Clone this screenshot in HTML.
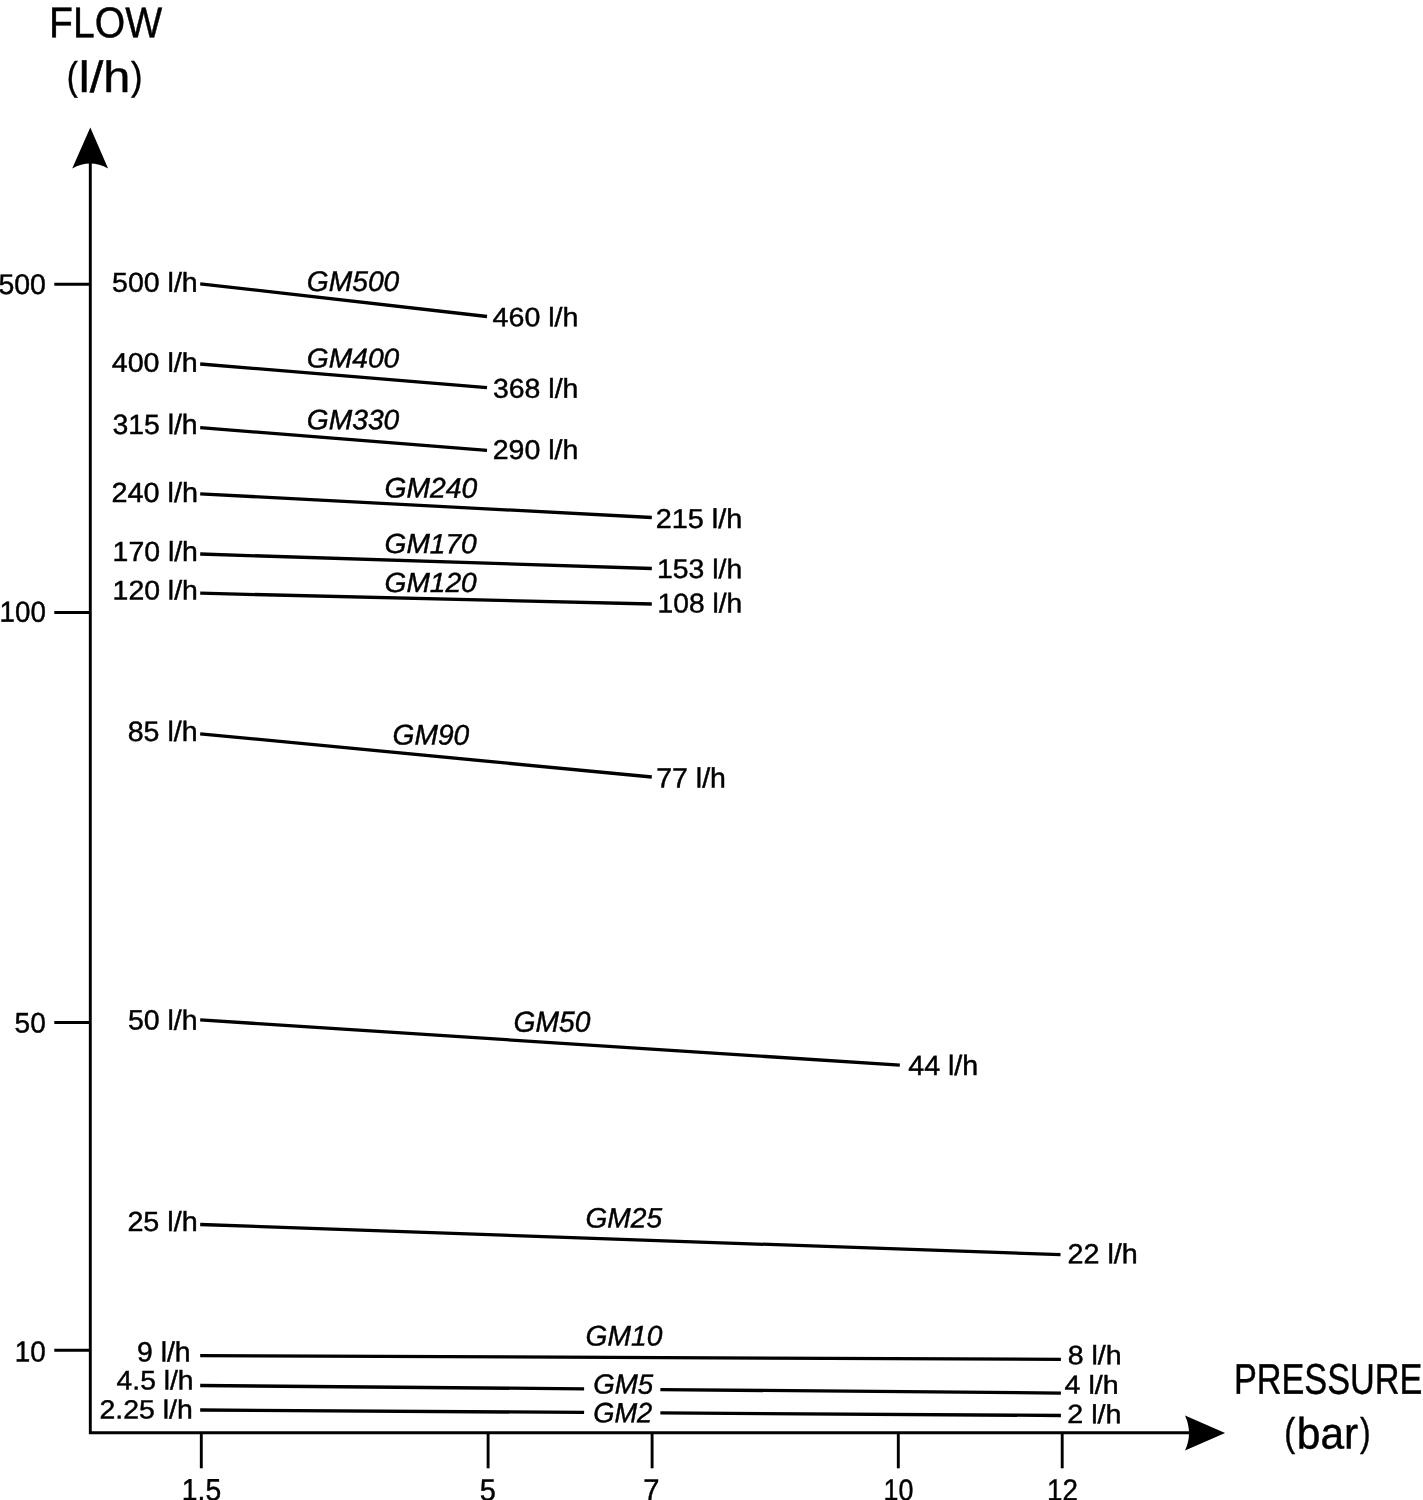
<!DOCTYPE html>
<html><head><meta charset="utf-8"><style>
html,body{margin:0;padding:0;background:#fff;width:1423px;height:1500px;overflow:hidden}
svg{display:block;will-change:transform}
</style></head><body>
<svg width="1423" height="1500" viewBox="0 0 1423 1500">
<rect width="1423" height="1500" fill="#fff"/>
<g stroke="#000" stroke-width="2.9" stroke-linecap="butt">
<g stroke-width="3.3">
<line x1="200.2" y1="283.8" x2="487" y2="316.5"/>
<line x1="200.2" y1="364.0" x2="487" y2="387.7"/>
<line x1="200.2" y1="427.6" x2="487" y2="450.4"/>
<line x1="200.2" y1="493.8" x2="651.8" y2="517.5"/>
<line x1="200.2" y1="554.0" x2="651.8" y2="568.5"/>
<line x1="200.2" y1="593.2" x2="651.8" y2="604.0"/>
<line x1="200.2" y1="733.8" x2="651.8" y2="777.0"/>
<line x1="200.2" y1="1019.9" x2="899.8" y2="1065.2"/>
<line x1="200.2" y1="1224.5" x2="1060.5" y2="1254.7"/>
<line x1="200.2" y1="1355.6" x2="1060.9" y2="1359.4"/>
<line x1="200.2" y1="1385.5" x2="584.1" y2="1388.89"/>
<line x1="660.4" y1="1389.56" x2="1060.9" y2="1393.1"/>
<line x1="200.2" y1="1410.0" x2="584.1" y2="1412.45"/>
<line x1="660.4" y1="1412.94" x2="1060.9" y2="1415.5"/>
</g>
<path d="M90.3 160 L90.3 1432.8 L1192 1432.8" fill="none" stroke-linejoin="miter"/>
<line x1="54.3" y1="284.2" x2="90.3" y2="284.2"/>
<line x1="54.3" y1="612.5" x2="90.3" y2="612.5"/>
<line x1="54.3" y1="1022.5" x2="90.3" y2="1022.5"/>
<line x1="54.3" y1="1350.3" x2="90.3" y2="1350.3"/>
<line x1="201.3" y1="1432.8" x2="201.3" y2="1468.3"/>
<line x1="488.1" y1="1432.8" x2="488.1" y2="1468.3"/>
<line x1="652.1" y1="1432.8" x2="652.1" y2="1468.3"/>
<line x1="898.3" y1="1432.8" x2="898.3" y2="1468.3"/>
<line x1="1062.2" y1="1432.8" x2="1062.2" y2="1468.3"/>
</g>
<g fill="#000">
<path d="M90.3 127.4 L108.1 168.4 Q90.3 158.6 72.2 168.4 Z"/>
<path d="M1225.1 1433.1 L1185 1450.6 Q1193 1433 1185 1415.4 Z"/>
</g>
<g fill="#000" stroke="#000" stroke-width="0.45" font-family="Liberation Sans, sans-serif" text-rendering="geometricPrecision">
<text transform="translate(-1.61 293.89) rotate(0.04) scale(0.9978 1)" font-size="28.52">500</text>
<text transform="translate(-0.46 621.68) rotate(0.04) scale(0.9541 1)" font-size="29.08">100</text>
<text transform="translate(14.60 1032.49) rotate(0.04) scale(0.9939 1)" font-size="28.24">50</text>
<text transform="translate(14.84 1361.38) rotate(0.04) scale(0.9576 1)" font-size="29.08">10</text>
<text transform="translate(181.80 1500.27) rotate(0.04) scale(0.9204 1)" font-size="30.72">1.5</text>
<text transform="translate(479.67 1500.47) rotate(0.04) scale(0.9512 1)" font-size="30.43">5</text>
<text transform="translate(643.37 1500.78) rotate(0.04) scale(0.9432 1)" font-size="30.88">7</text>
<text transform="translate(883.51 1500.27) rotate(0.04) scale(0.8929 1)" font-size="30.07">10</text>
<text transform="translate(1047.04 1500.58) rotate(0.04) scale(0.9104 1)" font-size="30.50">12</text>
<text transform="translate(49.09 37.24) rotate(0.04) scale(0.9093 1)" font-size="43.03">FLOW</text>
<text transform="translate(1233.88 1393.65) rotate(0.04) scale(0.7990 1)" font-size="42.89">PRESSURE</text>
<text transform="translate(66.74 89.52) rotate(0.04) scale(0.8402 1)" font-size="39.30">(</text>
<text transform="translate(131.08 89.52) rotate(0.04) scale(0.8759 1)" font-size="39.30">)</text>
<text transform="translate(1284.17 1445.73) rotate(0.04) scale(0.8216 1)" font-size="39.73">(</text>
<text transform="translate(1360.01 1445.73) rotate(0.04) scale(0.7986 1)" font-size="39.73">)</text>
<text transform="translate(1296.87 1448.43) rotate(0.04) scale(0.9646 1)" font-size="44.01">bar</text>
<text transform="translate(112.08 291.80) rotate(0.04) scale(1.0401 1)" font-size="27.41">500 l/h</text>
<text transform="translate(111.81 371.70) rotate(0.04) scale(1.0593 1)" font-size="27.01">400 l/h</text>
<text transform="translate(112.39 434.00) rotate(0.04) scale(1.0211 1)" font-size="27.82">315 l/h</text>
<text transform="translate(111.38 501.90) rotate(0.04) scale(1.0410 1)" font-size="27.69">240 l/h</text>
<text transform="translate(112.59 560.90) rotate(0.04) scale(1.0261 1)" font-size="27.69">170 l/h</text>
<text transform="translate(112.59 599.50) rotate(0.04) scale(1.0519 1)" font-size="27.01">120 l/h</text>
<text transform="translate(127.74 741.00) rotate(0.04) scale(1.0209 1)" font-size="27.96">85 l/h</text>
<text transform="translate(127.89 1029.60) rotate(0.04) scale(1.0187 1)" font-size="27.96">50 l/h</text>
<text transform="translate(127.39 1231.00) rotate(0.04) scale(1.0429 1)" font-size="27.55">25 l/h</text>
<text transform="translate(136.95 1361.40) rotate(0.04) scale(1.0207 1)" font-size="27.82">9 l/h</text>
<text transform="translate(116.62 1389.40) rotate(0.04) scale(1.0462 1)" font-size="27.01">4.5 l/h</text>
<text transform="translate(99.50 1418.51) rotate(0.04) scale(1.0795 1)" font-size="26.33">2.25 l/h</text>
<text transform="translate(492.61 326.21) rotate(0.04) scale(1.0743 1)" font-size="26.60">460 l/h</text>
<text transform="translate(492.99 397.70) rotate(0.04) scale(1.0480 1)" font-size="27.14">368 l/h</text>
<text transform="translate(492.70 458.90) rotate(0.04) scale(1.0516 1)" font-size="27.14">290 l/h</text>
<text transform="translate(655.68 527.90) rotate(0.04) scale(1.0618 1)" font-size="27.14">215 l/h</text>
<text transform="translate(657.10 578.10) rotate(0.04) scale(1.0493 1)" font-size="27.01">153 l/h</text>
<text transform="translate(657.61 612.40) rotate(0.04) scale(1.0376 1)" font-size="27.14">108 l/h</text>
<text transform="translate(656.20 787.40) rotate(0.04) scale(1.0250 1)" font-size="27.82">77 l/h</text>
<text transform="translate(908.21 1075.00) rotate(0.04) scale(1.0294 1)" font-size="27.82">44 l/h</text>
<text transform="translate(1067.49 1263.30) rotate(0.04) scale(1.0429 1)" font-size="27.55">22 l/h</text>
<text transform="translate(1067.64 1364.21) rotate(0.04) scale(1.0774 1)" font-size="26.46">8 l/h</text>
<text transform="translate(1064.61 1393.62) rotate(0.04) scale(1.1086 1)" font-size="25.78">4 l/h</text>
<text transform="translate(1067.29 1423.11) rotate(0.04) scale(1.0903 1)" font-size="26.33">2 l/h</text>
<text transform="translate(306.82 290.89) rotate(0.04) scale(0.9931 1)" font-size="28.38" font-style="italic">GM500</text>
<text transform="translate(306.82 367.50) rotate(0.04) scale(1.0341 1)" font-size="27.25" font-style="italic">GM400</text>
<text transform="translate(306.82 429.29) rotate(0.04) scale(1.0030 1)" font-size="28.10" font-style="italic">GM330</text>
<text transform="translate(384.51 497.59) rotate(0.04) scale(1.0013 1)" font-size="28.24" font-style="italic">GM240</text>
<text transform="translate(384.52 553.10) rotate(0.04) scale(1.0213 1)" font-size="27.54" font-style="italic">GM170</text>
<text transform="translate(384.52 591.90) rotate(0.04) scale(1.0161 1)" font-size="27.68" font-style="italic">GM120</text>
<text transform="translate(392.52 744.59) rotate(0.04) scale(0.9874 1)" font-size="28.52" font-style="italic">GM90</text>
<text transform="translate(513.62 1031.78) rotate(0.04) scale(0.9683 1)" font-size="29.08" font-style="italic">GM50</text>
<text transform="translate(585.52 1227.40) rotate(0.04) scale(1.0049 1)" font-size="27.96" font-style="italic">GM25</text>
<text transform="translate(585.62 1345.39) rotate(0.04) scale(0.9923 1)" font-size="28.38" font-style="italic">GM10</text>
<text transform="translate(593.24 1393.60) rotate(0.04) scale(0.9996 1)" font-size="27.68" font-style="italic">GM5</text>
<text transform="translate(593.26 1422.20) rotate(0.04) scale(0.9783 1)" font-size="27.82" font-style="italic">GM2</text>
<text transform="translate(78.87 92.08) rotate(0.04) scale(1.1062 1)" font-size="43.93">l/h</text>
</g>
</svg>
</body></html>
